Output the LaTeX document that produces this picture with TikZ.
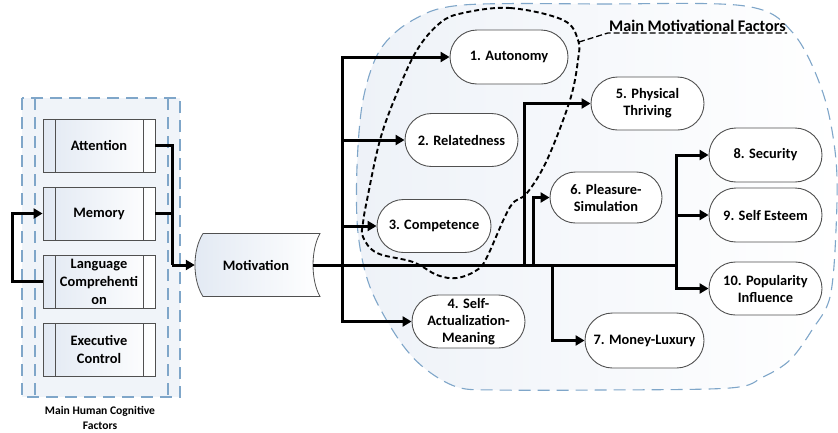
\documentclass[tikz,border=0pt]{standalone}
\usepackage{fontspec}
\setmainfont{Carlito}
\usetikzlibrary{arrows.meta,shapes.misc,calc}
\definecolor{dashblue}{HTML}{7FA6C9}
\definecolor{bordergray}{HTML}{505050}
\definecolor{paleblue}{HTML}{E2E9F3}
\definecolor{regfill}{HTML}{F0F4F9}
\definecolor{blobfill}{HTML}{EEF2F8}
\begin{document}
\begin{tikzpicture}[x=1pt,y=-1pt,
  conn/.style={line width=3pt,-{Triangle[length=9pt,width=10pt]}},
  trunk/.style={line width=3pt},
  mainfont/.style={font=\bfseries\fontsize{14.4}{17}\selectfont},
  pill/.style={rounded rectangle,draw=bordergray,line width=0.9pt,fill=white,
    minimum width=117pt,minimum height=53pt,inner sep=2pt,align=center,mainfont},
  procbox/.style={rectangle,draw=bordergray,line width=0.8pt,left color=paleblue,right color=white,
    minimum width=112pt,minimum height=53pt,inner sep=1pt,align=center,
    font=\bfseries\fontsize{14.4}{18}\selectfont,
    path picture={\draw[bordergray,line width=0.8pt]
      ([xshift=12pt]path picture bounding box.north west) -- ([xshift=12pt]path picture bounding box.south west)
      ([xshift=-12pt]path picture bounding box.north east) -- ([xshift=-12pt]path picture bounding box.south east);}},
  regionline/.style={draw=dashblue,line width=1.1pt,dash pattern=on 12pt off 7pt},
  loopline/.style={draw=black,line width=1.9pt,dash pattern=on 5pt off 3pt}
]
\useasboundingbox (0,0) rectangle (838,432);
% main motivational region
\path[regionline,left color=blobfill,right color=white]
  plot[smooth cycle,tension=0.55] coordinates {(463,5) (600,4) (745,6) (793,33) (823,93) (836,160)
  (836,230) (830,297) (812,330) (790,360) (763,377) (730,388) (600,390) (497,390) (457,387)
  (423,367) (397,337) (370,287) (358,233) (357,167) (363,100) (380,50) (413,20)};
% cognitive region
\draw[regionline,fill=regfill] (22,98) rectangle (180,397);
\draw[regionline] (35,98) -- (35,397);
\draw[regionline] (168,98) -- (168,397);
% motivation shape
\draw[bordergray,line width=0.8pt,left color=paleblue,right color=white]
  (203,233.5) -- (320,233.5) .. controls (310.7,250) and (310.7,280) .. (320,296.5)
  -- (203,296.5) .. controls (192.3,280) and (192.3,250) .. (203,233.5) -- cycle;
\node[mainfont,minimum width=122pt,minimum height=63pt,inner sep=0pt] (mot) at (256,265) {Motivation};
% cognitive boxes
\node[procbox] (att) at (99,145.5) {Attention};
\node[procbox] (mem) at (99,213.5) {Memory};
\node[procbox] (lang) at (99,281.5) {Language\\Comprehenti\\on};
\node[procbox] (exec) at (99,349.5) {Executive\\Control};
\node[font=\bfseries\fontsize{11.6}{15}\selectfont,align=center] (hcf) at (100,418) {Main Human Cognitive\\Factors};
% motivational factors
\node[pill,minimum width=122pt,minimum height=54pt] (n1) at (509,57) {1. Autonomy};
\node[pill] (n2) at (461.5,140) {2. Relatedness};
\node[pill,minimum width=118pt] (n3) at (434,226) {3. Competence};
\node[pill] (n4) at (468.5,321.5) {4. Self-\\Actualization-\\Meaning};
\node[pill] (n5) at (647.5,103.5) {5. Physical\\Thriving};
\node[pill,minimum width=116pt,minimum height=51pt] (n6) at (606,197.5) {6. Pleasure-\\Simulation};
\node[pill,minimum width=123pt,minimum height=55pt] (n7) at (644.5,340.5) {7. Money-Luxury};
\node[pill,minimum height=54pt] (n8) at (765.5,155) {8. Security};
\node[pill,minimum height=54pt] (n9) at (765.5,215) {9. Self Esteem};
\node[pill] (n10) at (765.5,288.5) {10. Popularity\\Influence};
% left connectors
\coordinate (j) at (172,265);
\coordinate (k) at (12,281.5);
\draw[trunk] (att.east) -| (j);
\draw[trunk] (mem.east) -- (mem.east -| j);
\draw[conn] (j) -- (mot.west);
\draw[conn] (lang.west) -- (k) |- (mem.west);
% main trunk
\coordinate (a) at (342,265);
\coordinate (b) at (524,265);
\coordinate (c) at (533,265);
\coordinate (d) at (552,265);
\coordinate (e) at (676,265);
\draw[trunk] ([xshift=-4pt]mot.east) -- (e);
\draw[conn] (a) |- (n1);
\draw[conn] (a) |- (n2);
\draw[conn] (a) |- (n3);
\draw[conn] (a) |- (n4);
\draw[conn] (b) |- (n5);
\draw[conn] (c) |- (n6);
\draw[conn] (d) |- (n7);
\draw[conn] (e) |- (n8);
\draw[conn] (e) |- (n9);
\draw[conn] (e) |- (n10);
% dashed loop around 1-3
\draw[loopline] plot[smooth cycle,tension=0.6] coordinates {(463,13) (510,8) (563,20) (578,40) (578,60)
  (570,100) (547,160) (527,193) (510,207) (487,257) (477,270) (457,278) (437,275) (413,262)
  (377,253) (363,237) (363,223) (367,200) (380,140) (397,93) (417,50) (440,23)};
% label
\node[font=\bfseries\fontsize{16.2}{19}\selectfont,inner sep=1pt] (mmf) at (697.5,26) {Main Motivational Factors};
\coordinate (lp) at (579,42);
\draw[draw=black,line width=1.3pt,dash pattern=on 6pt off 3pt] (lp) -- (mmf.south west) -- (mmf.south east);
\end{tikzpicture}
\end{document}
